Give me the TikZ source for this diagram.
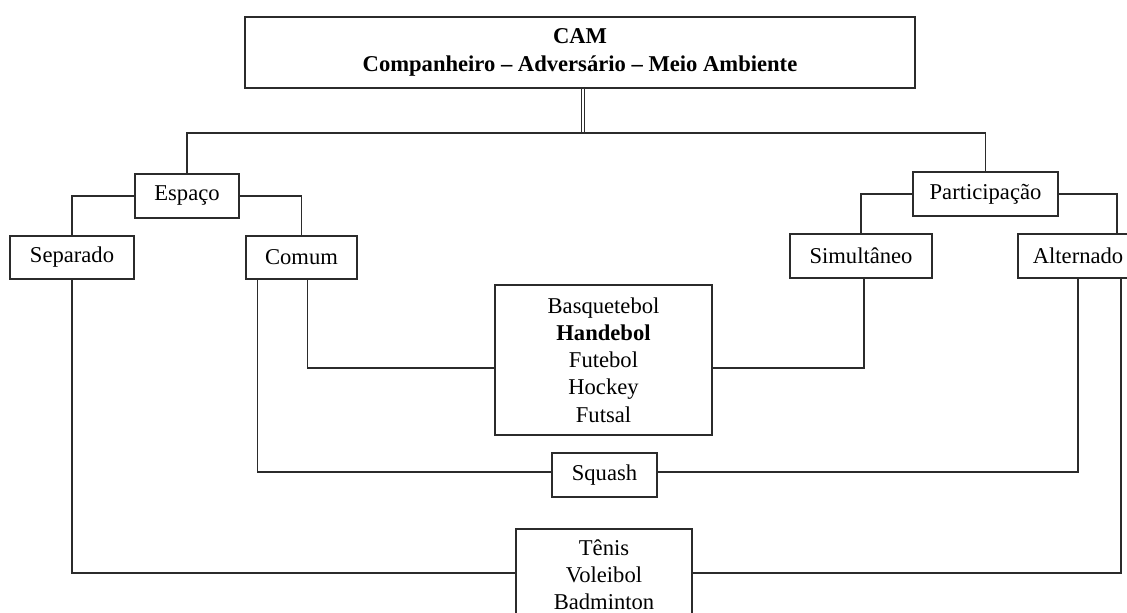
\documentclass[tikz,border=0pt]{standalone}
\usepackage{fontspec}
\setmainfont{Liberation Serif}
\usepackage{tikz}
\usetikzlibrary{positioning}
\definecolor{ink}{HTML}{2B2B2B}

\begin{document}
\begin{tikzpicture}[
    x=0.5pt, y=-0.5pt,
    box/.style={rectangle, draw=ink, line width=0.6pt, fill=white, text=black,
                font=\fontsize{11.3}{13.6}\selectfont, align=center, inner sep=0pt},
    link/.style={draw=ink, line width=0.6pt},
    dbl/.style={draw=ink, double, double distance=1.1pt, line width=0.45pt}
  ]
  \useasboundingbox (0,0) rectangle (1127,613);
  \clip (0,0) rectangle (1127,613);

  \node[box, minimum width=335pt, minimum height=35.5pt] (cam) at (580,52.5)
    {\bfseries CAM\\\bfseries Companheiro -- Adversário -- Meio Ambiente};

  \node[box, minimum width=52pt, minimum height=22pt] (espaco) at (187,196) {Espaço};
  \node[box, minimum width=62pt, minimum height=21.5pt] (separado) at (72,257.5) {Separado};
  \node[box, minimum width=55.5pt, minimum height=21.5pt] (comum) at (301.5,257.5) {Comum};

  \node[box, minimum width=72.5pt, minimum height=22pt] (particip) at (985.5,194) {Participação};
  \node[box, minimum width=71pt, minimum height=22pt] (simult) at (861,256) {Simultâneo};
  \node[box, minimum width=60pt, minimum height=22pt] (alternado) at (1078,256) {Alternado};

  \node[box, minimum width=108.5pt, minimum height=75pt] (esportes) at (603.5,360)
    {Basquetebol\\\textbf{Handebol}\\Futebol\\Hockey\\Futsal};
  \node[box, minimum width=52.5pt, minimum height=22pt] (squash) at (604.5,475) {Squash};
  \node[box, minimum width=88pt, minimum height=46pt] (tenis) at (604,575)
    {Tênis\\Voleibol\\Badminton};

  % tronco principal
  \coordinate (hub) at (583,133);
  \draw[dbl] (cam.south -| hub) -- (hub);
  \draw[link] (espaco.north) |- (hub) -| (particip.north);

  % espaço e participação
  \draw[link] (espaco.west) -| (separado.north);
  \draw[link] (espaco.east) -| (comum.north);
  \draw[link] (particip.west) -| (simult.north);
  \draw[link] (particip.east) -| ([xshift=19.5pt]alternado.north);

  % modalidades
  \draw[link] ([xshift=3pt]comum.south) |- ([yshift=-4pt]esportes.west);
  \draw[link] ([xshift=1.5pt]simult.south) |- ([yshift=-4pt]esportes.east);
  \draw[link] ([xshift=-22pt]comum.south) |- ([yshift=1.5pt]squash.west);
  \draw[link] ([yshift=1.5pt]squash.east) -| (alternado.south);
  \draw[link] (separado.south) |- ([yshift=1pt]tenis.west);
  \draw[link] ([xshift=21.5pt]alternado.south) |- ([yshift=1pt]tenis.east);
\end{tikzpicture}
\end{document}
